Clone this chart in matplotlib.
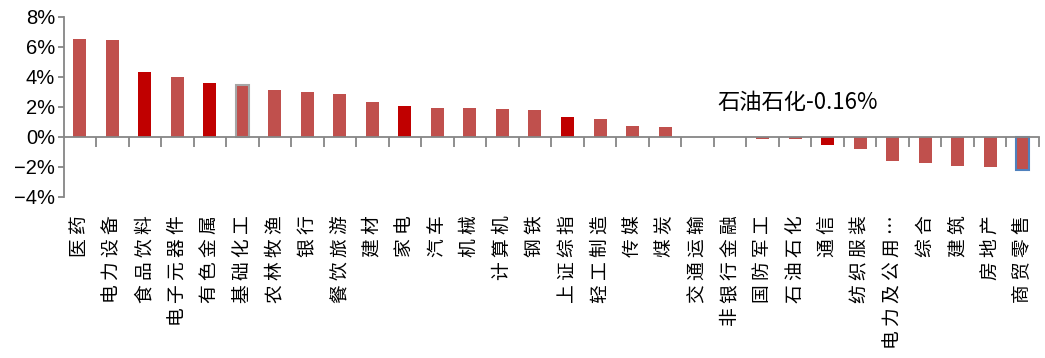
import matplotlib
matplotlib.use("Agg")
import matplotlib.pyplot as plt
from matplotlib.ticker import FixedLocator, FuncFormatter

plt.rcParams['font.family'] = ['Noto Sans CJK SC', 'DejaVu Sans']

categories = ["医药", "电力设备", "食品饮料", "电子元器件", "有色金属", "基础化工", "农林牧渔",
              "银行", "餐饮旅游", "建材", "家电", "汽车", "机械", "计算机", "钢铁", "上证综指",
              "轻工制造", "传媒", "煤炭", "交通运输", "非银行金融", "国防军工", "石油石化", "通信",
              "纺织服装", "电力及公用…", "综合", "建筑", "房地产", "商贸零售"]
values = [6.53, 6.47, 4.33, 3.98, 3.60, 3.47, 3.13, 3.00, 2.87, 2.33, 2.07, 1.93, 1.93, 1.90,
          1.80, 1.35, 1.20, 0.73, 0.70, 0.01, 0.01, -0.10, -0.16, -0.55, -0.83, -1.60, -1.70,
          -1.95, -2.03, -2.23]
highlight = ["食品饮料", "有色金属", "家电", "上证综指", "通信"]
grey_edge = ["基础化工"]
blue_edge = ["商贸零售"]
yticks = [-4, -2, 0, 2, 4, 6, 8]
annotation = "石油石化-0.16%"

fig = plt.figure(figsize=(10.45, 3.58), dpi=100)
ax = fig.add_axes([63.5 / 1045, (358 - 197) / 358, (1039 - 63.5) / 1045, 180 / 358])

x = list(range(len(categories)))
colors = ["#C00000" if c in highlight else "#C0504D" for c in categories]
bars = ax.bar(x, values, width=0.4, color=colors, zorder=2)
for b, c in zip(bars, categories):
    if c in grey_edge:
        b.set_edgecolor("#A6A6A6"); b.set_linewidth(1.5)
    elif c in blue_edge:
        b.set_edgecolor("#4F81BD"); b.set_linewidth(1.5)

ax.set_xlim(-0.5, len(categories) - 0.5)
ax.set_ylim(-4, 8)

for s in ["top", "right"]:
    ax.spines[s].set_visible(False)
ax.spines["bottom"].set_position(("data", 0))
ax.spines["bottom"].set_color("#868686")
ax.spines["left"].set_color("#868686")
ax.spines["bottom"].set_linewidth(1.3)
ax.spines["left"].set_linewidth(1.3)

ax.set_yticks(yticks)
ax.yaxis.set_major_formatter(FuncFormatter(lambda v, p: f"{v:.0f}%".replace("-", "\u2212")))
ax.tick_params(axis="y", direction="out", length=4, width=1.3, color="#868686",
               labelsize=14.5, pad=2, labelfontfamily="Liberation Sans")

ax.set_xticks(x)
ax.set_xticklabels([" ".join(list(c)) for c in categories], rotation=90, va="top",
                   ha="center", fontsize=13.5)
ax.xaxis.set_minor_locator(FixedLocator([i + 0.5 for i in x]))
ax.tick_params(axis="x", which="major", length=0, pad=56)
ax.tick_params(axis="x", which="minor", direction="out", length=7, width=1.3, color="#868686")

ax.text(19.6, 2.3, annotation, ha="left", va="center", fontsize=16)

fig.savefig("out.png", dpi=100)
